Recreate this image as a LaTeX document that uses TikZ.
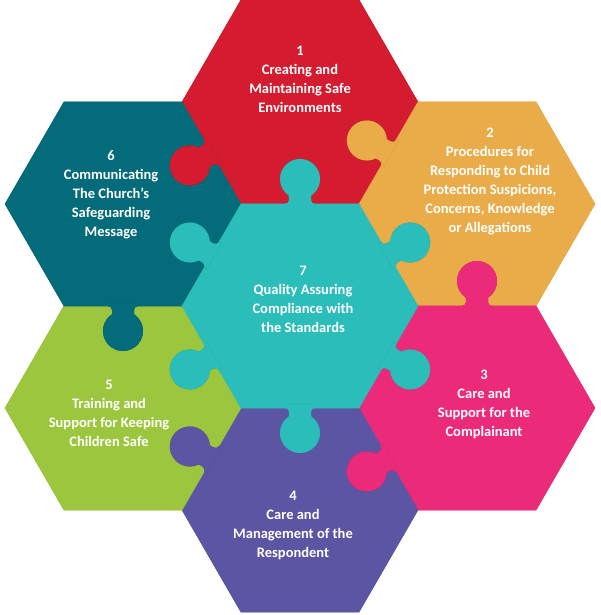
\documentclass[tikz,border=0pt]{standalone}
\usepackage{fontspec}
\setmainfont{Carlito}
\usetikzlibrary{calc}

\definecolor{hexred}{RGB}{212,27,47}
\definecolor{hexorange}{RGB}{233,172,72}
\definecolor{hexpink}{RGB}{236,42,122}
\definecolor{hexpurple}{RGB}{92,85,164}
\definecolor{hexgreen}{RGB}{156,198,61}
\definecolor{hexdteal}{RGB}{3,107,121}
\definecolor{hexteal}{RGB}{43,189,186}

\tikzset{
  piece text/.style={text=white, font=\bfseries\fontsize{14.5}{19}\selectfont, align=center, inner sep=0pt},
}

% tab of a puzzle piece: owner centre, neighbour centre, direction, colour
\newcommand{\tabpath}{(-3,-15) -- (0,-15) .. controls (0,-12.8) and (1.8,-11) .. (4,-11) -- (8.3,-11)
  arc[start angle=-146.6, end angle=146.6, radius=20]
  -- (4,11) .. controls (1.8,11) and (0,12.8) .. (0,15) -- (-3,15) -- cycle}
\newcommand{\knob}[4]{%
  \begin{scope}[shift={(-0.8,-1.2)}, shift={($(#1)!0.5!(#2)$)}, rotate=#3]
    \fill[#4!72!black] \tabpath;
  \end{scope}
  \begin{scope}[shift={($(#1)!0.5!(#2)$)}, rotate=#3]
    \fill[#4] \tabpath;
  \end{scope}}

\begin{document}
\begin{tikzpicture}[x=1pt, y=1pt]
\useasboundingbox (0,0) rectangle (600,615);

% --- hexagon centres ---
\coordinate (c1) at (300,513);
\coordinate (c2) at (477,411);
\coordinate (c3) at (477,207);
\coordinate (c4) at (300,105);
\coordinate (c5) at (123,207);
\coordinate (c6) at (123,411);
\coordinate (c7) at (300,309);

% --- pieces (shadow first) ---
\foreach \c/\col in {c1/hexred, c2/hexorange, c3/hexpink, c4/hexpurple, c5/hexgreen, c6/hexdteal, c7/hexteal}
  \fill[\col!70!black, shift={(0,-1.5)}] (\c) +(0:118) -- +(60:118) -- +(120:118) -- +(180:118) -- +(240:118) -- +(300:118) -- cycle;
\foreach \c/\col in {c1/hexred, c2/hexorange, c3/hexpink, c4/hexpurple, c5/hexgreen, c6/hexdteal, c7/hexteal}
  \filldraw[\col, line width=0.4pt] (\c) +(0:118) -- +(60:118) -- +(120:118) -- +(180:118) -- +(240:118) -- +(300:118) -- cycle;

% --- tabs ---
\knob{c1}{c6}{210}{hexred}
\knob{c2}{c1}{150}{hexorange}
\knob{c7}{c1}{90}{hexteal}
\knob{c7}{c6}{150}{hexteal}
\knob{c6}{c5}{270}{hexdteal}
\knob{c7}{c5}{210}{hexteal}
\knob{c4}{c5}{150}{hexpurple}
\knob{c7}{c4}{270}{hexteal}
\knob{c3}{c4}{210}{hexpink}
\knob{c7}{c3}{330}{hexteal}
\knob{c3}{c2}{90}{hexpink}
\knob{c7}{c2}{30}{hexteal}

% --- texts ---
\node[piece text] (t1) at (300,536) {1\\Creating and\\Maintaining Safe\\Environments};
\node[piece text] (t2) at (490,434) {2\\Procedures for\\Responding to Child\\Protection Suspicions,\\Concerns, Knowledge\\or Allegations};
\node[piece text] (t3) at (484,211) {3\\Care and\\Support for the\\Complainant};
\node[piece text] (t4) at (293,90) {4\\Care and\\Management of the\\Respondent};
\node[piece text] (t5) at (109,202) {5\\Training and\\Support for Keeping\\Children Safe};
\node[piece text] (t6) at (111,420) {6\\Communicating\\The Church's\\Safeguarding\\Message};
\node[piece text] (t7) at (303,316) {7\\Quality Assuring\\Compliance with\\the Standards};

\end{tikzpicture}
\end{document}
